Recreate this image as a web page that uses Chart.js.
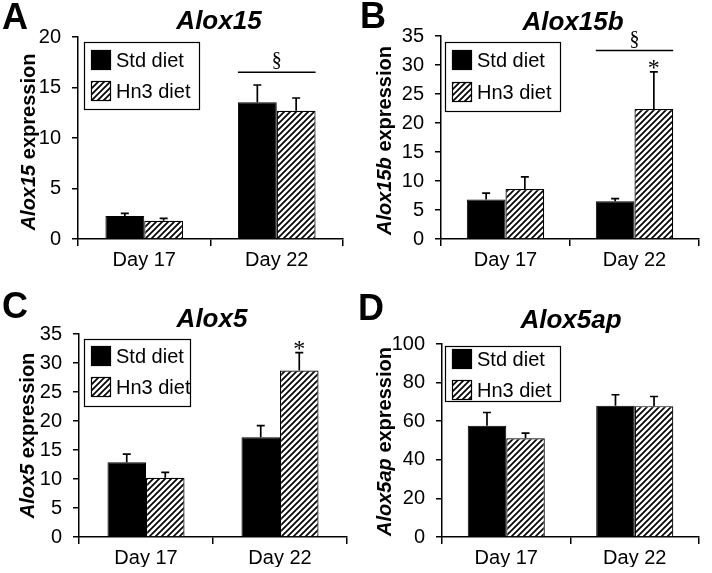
<!DOCTYPE html>
<html><head><meta charset="utf-8">
<script src="https://cdn.jsdelivr.net/npm/chart.js@4.4.1/dist/chart.umd.min.js"></script>
<style>
body{margin:0;background:#fff;width:712px;height:573px;position:relative;overflow:hidden}
canvas{position:absolute}
</style></head><body>
<canvas id="cA" width="356" height="290" style="left:0;top:0"></canvas>
<canvas id="cB" width="356" height="290" style="left:356px;top:0"></canvas>
<canvas id="cC" width="356" height="283" style="left:0;top:290px"></canvas>
<canvas id="cD" width="356" height="283" style="left:356px;top:290px"></canvas>
<script>
// ---------- data ----------
const categories = ['Day 17', 'Day 22'];
const seriesLabels = ['Std diet', 'Hn3 diet'];

const alox15Std = [2.28, 13.53];
const alox15StdErr = [0.26, 1.72];
const alox15Hn3 = [1.81, 12.7];
const alox15Hn3Err = [0.24, 1.26];

const alox15bStd = [6.8, 6.5];
const alox15bStdErr = [1.1, 0.45];
const alox15bHn3 = [8.6, 22.4];
const alox15bHn3Err = [2.1, 6.4];

const alox5Std = [12.9, 17.2];
const alox5StdErr = [1.4, 2.0];
const alox5Hn3 = [10.2, 28.7];
const alox5Hn3Err = [0.95, 3.1];

const alox5apStd = [57.6, 68.0];
const alox5apStdErr = [6.9, 5.7];
const alox5apHn3 = [51.2, 67.8];
const alox5apHn3Err = [2.6, 5.0];

const yMaxA = 20, yStepA = 5;
const yMaxB = 35, yStepB = 5;
const yMaxC = 35, yStepC = 5;
const yMaxD = 100, yStepD = 20;

// significance marks: section-sign line over a category (value = line level), star over a bar
const sigA = {category: 1, lineValue: 16.5};
const sigB = {category: 1, lineValue: 32.5};
const starB = {dataset: 1, category: 1};
const starC = {dataset: 1, category: 1};

// ---------- drawing ----------
const FONT = "'Liberation Sans', Arial, Helvetica, sans-serif";
const SERIF = "'Liberation Serif', 'Times New Roman', serif";

function makeHatch() {
  const c = document.createElement('canvas');
  c.width = 6; c.height = 6;
  const g = c.getContext('2d');
  g.fillStyle = '#fff'; g.fillRect(0, 0, 6, 6);
  g.strokeStyle = '#000'; g.lineWidth = 1.7;
  g.beginPath();
  g.moveTo(-1, 1); g.lineTo(1, -1);
  g.moveTo(-1, 7); g.lineTo(7, -1);
  g.moveTo(5, 7); g.lineTo(7, 5);
  g.stroke();
  return g.createPattern(c, 'repeat');
}
const hatch = makeHatch();

function makePanel(id, cfg) {
  const plugin = {
    id: 'panelDecor',
    afterDatasetsDraw(chart) {
      const ctx = chart.ctx;
      const y = chart.scales.y;
      ctx.save();
      // error bars (upper only)
      ctx.strokeStyle = '#000';
      ctx.lineWidth = 1.7;
      chart.data.datasets.forEach((ds, i) => {
        const meta = chart.getDatasetMeta(i);
        meta.data.forEach((bar, j) => {
          const v = ds.data[j], e = ds.errors[j];
          const y0 = y.getPixelForValue(v), y1 = y.getPixelForValue(v + e);
          ctx.beginPath();
          ctx.moveTo(bar.x, y0); ctx.lineTo(bar.x, y1);
          ctx.moveTo(bar.x - 4, y1); ctx.lineTo(bar.x + 4, y1);
          ctx.stroke();
        });
      });
      // section sign line
      if (cfg.sig) {
        const b0 = chart.getDatasetMeta(0).data[cfg.sig.category];
        const b1 = chart.getDatasetMeta(1).data[cfg.sig.category];
        const x0 = b0.x - b0.width / 2, x1 = b1.x + b1.width / 2;
        const ly = y.getPixelForValue(cfg.sig.lineValue);
        ctx.lineWidth = 1.5;
        ctx.beginPath(); ctx.moveTo(x0, ly); ctx.lineTo(x1, ly); ctx.stroke();
        ctx.fillStyle = '#000';
        ctx.font = '20px ' + SERIF;
        ctx.textAlign = 'center'; ctx.textBaseline = 'alphabetic';
        ctx.fillText('§', (x0 + x1) / 2, ly - 6);
      }
      if (cfg.star) {
        const ds = chart.data.datasets[cfg.star.dataset];
        const b = chart.getDatasetMeta(cfg.star.dataset).data[cfg.star.category];
        const top = y.getPixelForValue(ds.data[cfg.star.category] + ds.errors[cfg.star.category]);
        ctx.fillStyle = '#000';
        ctx.font = '24px ' + SERIF;
        ctx.textAlign = 'center'; ctx.textBaseline = 'alphabetic';
        ctx.fillText('*', b.x, top + 3);
      }
      ctx.restore();
    },
    afterDraw(chart) {
      const ctx = chart.ctx;
      const ca = chart.chartArea;
      ctx.save();
      ctx.fillStyle = '#000';
      // panel letter
      ctx.font = 'bold 36px ' + FONT;
      ctx.textAlign = 'left'; ctx.textBaseline = 'alphabetic';
      ctx.fillText(cfg.letter, cfg.letterX, cfg.letterY);
      // title
      ctx.font = 'italic bold 26px ' + FONT;
      ctx.textAlign = 'center';
      ctx.fillText(cfg.title, cfg.titleX, cfg.titleY);
      // y-axis title (mixed style)
      const f1 = 'italic bold 20px ' + FONT, f2 = 'bold 20px ' + FONT;
      ctx.font = f1; const w1 = ctx.measureText(cfg.title).width;
      ctx.font = f2; const w2 = ctx.measureText(' expression').width;
      const cy = (ca.top + ca.bottom) / 2 + cfg.yTitleDy;
      ctx.translate(cfg.yTitleX, cy);
      ctx.rotate(-Math.PI / 2);
      ctx.textAlign = 'left'; ctx.textBaseline = 'middle';
      ctx.font = f1; ctx.fillText(cfg.title, -(w1 + w2) / 2, 0);
      ctx.font = f2; ctx.fillText(' expression', -(w1 + w2) / 2 + w1, 0);
      ctx.setTransform(1, 0, 0, 1, 0, 0);
      // legend
      const L = cfg.legend;
      ctx.strokeStyle = '#000'; ctx.lineWidth = 1.2;
      ctx.fillStyle = '#fff';
      ctx.fillRect(L.x, L.y, L.w, L.h);
      ctx.strokeRect(L.x + 0.5, L.y + 0.5, L.w, L.h);
      chart.data.datasets.forEach((ds, i) => {
        const sy = L.y + L.first + i * L.rowGap;
        ctx.fillStyle = ds.backgroundColor;
        ctx.fillRect(L.x + 7, sy, 20, 20);
        ctx.strokeRect(L.x + 7.5, sy + 0.5, 19, 19);
        ctx.fillStyle = '#000';
        ctx.font = '20px ' + FONT;
        ctx.textAlign = 'left'; ctx.textBaseline = 'middle';
        ctx.fillText(ds.label, L.x + 32, sy + 11);
      });
      ctx.restore();
    }
  };

  return new Chart(document.getElementById(id), {
    type: 'bar',
    data: {
      labels: categories,
      datasets: [
        {label: seriesLabels[0], data: cfg.std, errors: cfg.stdErr, backgroundColor: '#000', borderColor: '#000', borderWidth: 1},
        {label: seriesLabels[1], data: cfg.hn3, errors: cfg.hn3Err, backgroundColor: hatch, borderColor: '#000', borderWidth: 1.2}
      ]
    },
    options: {
      responsive: false,
      animation: false,
      devicePixelRatio: 1,
      layout: {padding: {left: 0, right: cfg.padR, top: cfg.padT, bottom: cfg.padB}},
      plugins: {legend: {display: false}, tooltip: {enabled: false}, title: {display: false}},
      datasets: {bar: {categoryPercentage: cfg.catPct, barPercentage: 1}},
      scales: {
        x: {
          grid: {display: true, drawOnChartArea: false, drawTicks: true, tickLength: 7, color: '#000', lineWidth: 1.5, offset: true},
          border: {display: true, color: '#000', width: 1.5},
          ticks: {color: '#000', font: {family: FONT, size: 20}, padding: 2, maxRotation: 0},
          afterFit: s => { s.height = cfg.xH; }
        },
        y: {
          min: 0, max: cfg.max,
          grid: {display: true, drawOnChartArea: false, drawTicks: true, tickLength: 6, color: '#000', lineWidth: 1.5},
          border: {display: true, color: '#000', width: 1.5},
          ticks: {stepSize: cfg.step, color: '#000', font: {family: FONT, size: 20}, padding: 11},
          afterFit: s => { s.width = cfg.yW; }
        }
      }
    },
    plugins: [plugin]
  });
}

makePanel('cA', {
  std: alox15Std, stdErr: alox15StdErr, hn3: alox15Hn3, hn3Err: alox15Hn3Err,
  max: yMaxA, step: yStepA, sig: sigA, star: null,
  yW: 78, padR: 13, padT: 37, padB: 11, xH: 40, catPct: 0.586,
  letter: 'A', letterX: 2, letterY: 29, title: 'Alox15', titleX: 219, titleY: 29,
  yTitleX: 29, yTitleDy: 4,
  legend: {x: 84, y: 42, w: 115, h: 67, first: 8, rowGap: 31}
});
makePanel('cB', {
  std: alox15bStd, stdErr: alox15bStdErr, hn3: alox15bHn3, hn3Err: alox15bHn3Err,
  max: yMaxB, step: yStepB, sig: sigB, star: starB,
  yW: 85, padR: 13, padT: 36, padB: 11, xH: 40, catPct: 0.6,
  letter: 'B', letterX: 4, letterY: 28, title: 'Alox15b', titleX: 217, titleY: 30,
  yTitleX: 29, yTitleDy: 3,
  legend: {x: 89, y: 42, w: 115, h: 69, first: 8, rowGap: 32}
});
makePanel('cC', {
  std: alox5Std, stdErr: alox5StdErr, hn3: alox5Hn3, hn3Err: alox5Hn3Err,
  max: yMaxC, step: yStepC, sig: null, star: starC,
  yW: 79, padR: 9, padT: 44, padB: 6, xH: 30, catPct: 0.575,
  letter: 'C', letterX: 2, letterY: 28, title: 'Alox5', titleX: 212, titleY: 37,
  yTitleX: 28, yTitleDy: 0,
  legend: {x: 84, y: 49, w: 106, h: 67, first: 7, rowGap: 31}
});
makePanel('cD', {
  std: alox5apStd, stdErr: alox5apStdErr, hn3: alox5apHn3, hn3Err: alox5apHn3Err,
  max: yMaxD, step: yStepD, sig: null, star: null,
  yW: 86, padR: 13, padT: 54, padB: 6, xH: 30, catPct: 0.6,
  letter: 'D', letterX: 2, letterY: 30, title: 'Alox5ap', titleX: 215, titleY: 38,
  yTitleX: 29, yTitleDy: 1,
  legend: {x: 89, y: 56, w: 115, h: 55, first: 3, rowGap: 31}
});
</script>
</body></html>
